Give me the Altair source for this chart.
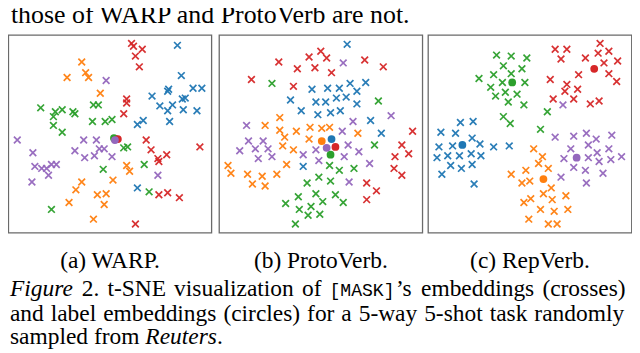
import altair as alt
import pandas as pd

# ---------------------------------------------------------------- data
CLASSES = ["C1", "C2", "C3", "C4", "C5"]
PALETTE = ["#1f77b4", "#ff7f0e", "#2ca02c", "#d62728", "#9467bd"]

# (a) WARP: [MASK] embeddings (crosses), t-SNE coordinates per class
WARP_C1 = [(173,192),(177,161),(163,145),(164,147),(189,148),(198,148),(147,140),(181,138),(178,137),(155,130),
           (168,131),(163,125),(179,126),(193,125),(165,114),(138,115),(132,111),(132,46)]
WARP_C2 = [(75,175),(79,164),(82,159),(60,159),(94,143),(121,69),(124,63),(107,54),(75,52),(69,44),
           (91,39),(100,40),(98,29),(62,31),(87,14)]
WARP_C3 = [(33,128),(48,124),(55,126),(46,119),(66,124),(68,122),(87,131),(92,131),(86,114),(99,114),
           (106,116),(46,110),(55,103),(122,88),(118,87),(139,70),(97,65),(144,42),(44,24)]
WARP_C4 = [(126,194),(128,191),(137,188),(130,181),(134,170),(121,137),(121,133),(118,122),(141,95),(146,85),
           (162,80),(154,73),(153,76),(196,88),(154,39),(163,41),(175,36),(130,9)]
WARP_C5 = [(100,156),(9,95),(77,95),(90,95),(25,82),(68,84),(78,77),(88,79),(93,86),(98,86),
           (106,78),(27,68),(34,66),(39,66),(44,70),(49,70),(41,59),(24,52),(153,59)]
WARP_LABELS = [(110,96),(109,96),(108,97),(112,96),(109,95)]

# (b) ProtoVerb
PROTO_C1 = [(131,193),(95,147),(111,148),(123,148),(134,153),(150,154),(141,145),(73,136),(99,134),(109,134),
            (120,138),(130,139),(141,132),(84,125),(101,121),(114,123),(124,125),(155,115),(166,102),(86,68)]
PROTO_C2 = [(62,118),(47,110),(62,105),(79,104),(93,108),(105,107),(113,108),(142,102),(67,98),(92,96),
            (65,89),(76,85),(69,70),(9,69),(12,61),(29,60),(44,58),(59,60),(34,50),(47,48)]
PROTO_C3 = [(54,153),(163,135),(159,90),(113,69),(123,64),(138,66),(102,57),(114,53),(90,51),(99,40),
            (119,39),(106,32),(127,31),(81,37),(68,30),(94,27),(82,24),(91,18),(103,19),(78,9)]
PROTO_C4 = [(104,186),(92,180),(110,179),(61,175),(80,168),(98,169),(115,164),(149,177),(168,170),(33,157),
            (76,150),(198,104),(187,90),(180,78),(194,81),(179,66),(187,59),(151,51),(161,43),(151,34)]
PROTO_C5 = [(127,174),(176,120),(137,114),(28,110),(126,104),(30,94),(45,94),(21,84),(37,86),(50,86),
            (40,76),(54,78),(86,80),(99,85),(102,74),(128,78),(132,90),(143,83),(154,71),(133,52)]
PROTO_LABELS = [(115,96),(105,94),(114,80),(119,88),(110,87)]

# (c) RepVerb
REP_C1 = [(33,113),(46,114),(13,103),(28,102),(45,97),(11,88),(25,89),(53,91),(67,88),(83,89),
          (9,77),(20,79),(32,79),(44,81),(54,79),(23,69),(34,66),(45,70),(14,60),(47,50)]
REP_C2 = [(108,86),(117,78),(113,71),(123,66),(85,60),(100,64),(96,51),(104,53),(126,46),(118,40),
          (141,38),(105,35),(98,31),(127,34),(115,24),(129,22),(143,24),(103,14),(123,9),(132,9)]
REP_C3 = [(70,182),(85,181),(101,179),(77,171),(96,168),(85,163),(67,162),(52,158),(76,154),(99,154),
          (64,149),(79,144),(91,142),(69,140),(82,134),(98,131),(77,119),(84,112),(122,124),(115,106)]
REP_C4 = [(176,194),(130,188),(142,188),(136,178),(161,179),(174,184),(185,186),(194,176),(180,174),(185,163),
          (193,155),(154,162),(125,157),(142,152),(153,147),(140,145),(128,137),(149,137),(166,132),(175,135)]
REP_C5 = [(138,131),(130,98),(149,99),(162,102),(172,96),(188,100),(164,90),(146,86),(185,86),(139,76),
          (164,77),(173,82),(175,73),(187,75),(198,78),(149,67),(161,64),(179,61),(136,57),(162,51)]
REP_LABELS = [(35,90),(118,55),(86,154),(170,168),(152,77)]

SUBCAPTIONS = ["(a) WARP.", "(b) ProtoVerb.", "(c) RepVerb."]
TOP_LINE = "those of WARP and ProtoVerb are not."
CAPTION_1 = [[("Figure", "i")], [("2.", "r")], [("t-SNE", "r")], [("visualization", "r")], [("of", "r")],
             [("[MASK]", "m"), ("\u2019s", "r")], [("embeddings", "r")], [("(crosses)", "r")]]
CAPTION_2 = [[(w, "r")] for w in "and label embeddings (circles) for a 5-way 5-shot task randomly".split()]
CAPTION_3 = [[("sampled", "r")], [("from", "r")], [("Reuters", "i"), (".", "r")]]

# ---------------------------------------------------------------- layout helpers
K = 632 / 639.0


def px(X):
    return (X - 1.0) * K


def py(Y):
    return (Y - 2.0) * K


FS = 24.0 * K        # caption / sub-caption
FS_BODY = 26.5 * K   # running text line above the figure
FS_MONO = 18.5 * K
SERIF = "Liberation Serif"
MONO = "Liberation Mono"

TR = dict(zip(" ()-.,'\u20190123456789[]", [250, 333, 333, 333, 250, 250, 180, 333] + [500] * 10 + [333, 333]))
TR.update(dict(zip("abcdefghijklmnopqrstuvwxyz",
                   [444, 500, 444, 500, 444, 333, 500, 500, 278, 278, 500, 278, 778, 500, 500, 500, 500, 333, 389,
                    278, 500, 500, 722, 500, 500, 444])))
TR.update(dict(zip("ABCDEFGHIJKLMNOPQRSTUVWXYZ",
                   [722, 667, 667, 722, 611, 556, 722, 722, 333, 389, 722, 611, 889, 722, 722, 556, 722, 667, 556,
                    611, 722, 722, 944, 722, 722, 611])))
TI = dict(TR)
TI.update({"F": 611, "R": 611, "r": 389, "i": 278, "g": 500, "u": 500, "e": 444, "t": 278, "s": 389})


def text_width(s, style):
    if style == "m":
        return 0.6 * FS_MONO * len(s)
    table = TI if style == "i" else TR
    return sum(table.get(c, 500) for c in s) / 1000.0 * FS


def layout_line(words, x0, x1, y, justify, rows):
    widths = [sum(text_width(t, s) for t, s in w) for w in words]
    if justify:
        gap = (px(x1) - px(x0) - sum(widths)) / (len(words) - 1)
    else:
        gap = 0.25 * FS
    cur = px(x0)
    for w in words:
        for t, s in w:
            rows.append({"t": t, "style": s, "x": cur, "y": py(y)})
            cur += text_width(t, s) + (1.5 if s == "m" else 0)
        cur += gap


rows = []
layout_line(CAPTION_1, 3, 632, 295, True, rows)
layout_line(CAPTION_2, 3, 632, 320, True, rows)
layout_line(CAPTION_3, 3, 632, 344, False, rows)
text_df = pd.DataFrame(rows)

PANELS = [("WARP", [WARP_C1, WARP_C2, WARP_C3, WARP_C4, WARP_C5], WARP_LABELS, 1.5, 209.5),
          ("ProtoVerb", [PROTO_C1, PROTO_C2, PROTO_C3, PROTO_C4, PROTO_C5], PROTO_LABELS, 217.3, 425.5),
          ("RepVerb", [REP_C1, REP_C2, REP_C3, REP_C4, REP_C5], REP_LABELS, 431.3, 639.7)]
TOP, BOTTOM = 27.5, 230.0

color = alt.Color("cls:N", scale=alt.Scale(domain=CLASSES, range=PALETTE), legend=None)
CROSS = "M-1,-1L1,1M-1,1L1,-1"

layers = []
sub_rows = []
for name, groups, labels, L, R in PANELS:
    xs = alt.Scale(domain=[0, R - L], range=[px(L), px(R)])
    ys = alt.Scale(domain=[0, BOTTOM - TOP], range=[py(BOTTOM), py(TOP)])
    pts = pd.DataFrame([{"cls": c, "x": x, "y": y} for c, g in zip(CLASSES, groups) for x, y in g])
    lab = pd.DataFrame([{"cls": c, "x": x, "y": y} for c, (x, y) in zip(CLASSES, labels)])
    frame_df = pd.DataFrame({"x0": [0.0], "x1": [R - L], "y0": [0.0], "y1": [BOTTOM - TOP]})
    frame = alt.Chart(frame_df).mark_rect(fill="white", fillOpacity=0, stroke="#6a6a6a", strokeWidth=1.3).encode(
        x=alt.X("x0:Q", scale=xs, axis=None), x2="x1:Q",
        y=alt.Y("y0:Q", scale=ys, axis=None), y2="y1:Q")
    crosses = alt.Chart(pts).mark_point(shape=CROSS, filled=False, size=46, strokeWidth=1.7, opacity=0.95).encode(
        x=alt.X("x:Q", scale=xs, axis=None), y=alt.Y("y:Q", scale=ys, axis=None), color=color)
    circles = alt.Chart(lab).mark_circle(size=62, opacity=1).encode(
        x=alt.X("x:Q", scale=xs, axis=None), y=alt.Y("y:Q", scale=ys, axis=None), color=color)
    layers.append(alt.layer(frame, crosses, circles))
    sub_rows.append({"t": SUBCAPTIONS[len(sub_rows)], "x": px((L + R) / 2), "y": py(266)})

sub_df = pd.DataFrame(sub_rows)
layers.append(alt.Chart(sub_df).mark_text(align="center", baseline="alphabetic", font=SERIF, fontSize=FS,
                                          color="black").encode(
    x=alt.X("x:Q", scale=None, axis=None), y=alt.Y("y:Q", scale=None, axis=None), text="t:N"))

top_df = pd.DataFrame([{"t": TOP_LINE, "x": px(4), "y": py(15)}])
layers.append(alt.Chart(top_df).mark_text(align="left", baseline="alphabetic", font=SERIF, fontSize=FS_BODY,
                                          color="black").encode(
    x=alt.X("x:Q", scale=None, axis=None), y=alt.Y("y:Q", scale=None, axis=None), text="t:N"))

for style, font, fstyle, size in [("r", SERIF, "normal", FS), ("i", SERIF, "italic", FS),
                                  ("m", MONO, "normal", FS_MONO)]:
    layers.append(
        alt.Chart(text_df[text_df["style"] == style]).mark_text(
            align="left", baseline="alphabetic", font=font, fontStyle=fstyle, fontSize=size, color="black").encode(
            x=alt.X("x:Q", scale=None, axis=None), y=alt.Y("y:Q", scale=None, axis=None), text="t:N"))

chart = alt.layer(*layers).resolve_scale(x="independent", y="independent").properties(
    width=632, height=345, autosize=alt.AutoSizeParams(type="none"), padding=0
).configure_view(stroke=None)

chart.save("out.html", embed_options={"renderer": "svg", "actions": False})
